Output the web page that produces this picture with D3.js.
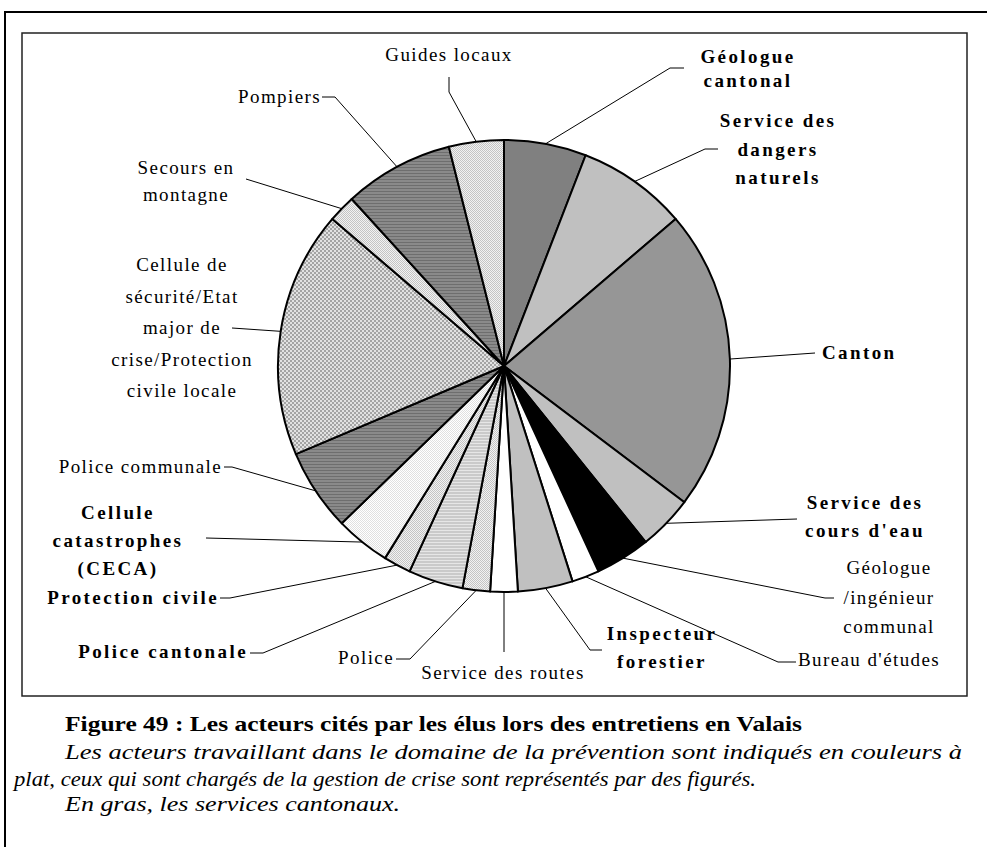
<!DOCTYPE html>
<html>
<head>
<meta charset="utf-8">
<script src="https://cdn.jsdelivr.net/npm/d3@7/dist/d3.min.js"></script>
<style>
  body { margin: 0; background: #fff; }
</style>
</head>
<body>
<svg width="987" height="847"></svg>
<script>
// data: number of citations per actor, clockwise from 12 o'clock
var actors = ['Géologue cantonal', 'Service des dangers naturels', 'Canton', "Service des cours d'eau",
  'Géologue /ingénieur communal', "Bureau d'études", 'Inspecteur forestier', 'Service des routes',
  'Police', 'Police cantonale', 'Protection civile', 'Cellule catastrophes (CECA)', 'Police communale',
  'Cellule de sécurité/Etat major de crise/Protection civile locale', 'Secours en montagne',
  'Pompiers', 'Guides locaux'];
var citations = [3, 4, 11, 2, 2, 1, 2, 1, 1, 2, 1, 2, 3, 9, 1, 4, 2];
var cantonal = [true, true, true, true, false, false, true, false, false, true, true, true, false, false, false, false, false];
var fills = ['#808080', '#c0c0c0', '#969696', '#c0c0c0', '#000000', '#ffffff', '#c0c0c0', '#ffffff',
  'url(#chkLight)', 'url(#strLight)', 'url(#chkLight)', 'url(#chkPale)', 'url(#strDark)',
  'url(#chkMed)', 'url(#chkLight)', 'url(#strDark)', 'url(#chkLight)'];

// label layout: text lines, anchor x, first baseline, anchor, leader elbow + end
var labels = [
  {lines: ['Géologue', 'cantonal'], x: 748, y: 63, dy: 24, a: 'middle', elbow: [670, 68], end: [684, 68]},
  {lines: ['Service des', 'dangers', 'naturels'], x: 778, y: 127, dy: 28.5, a: 'middle', elbow: [705, 149], end: [718, 149]},
  {lines: ['Canton'], x: 822, y: 359, a: 'start', elbow: null, end: [815, 353]},
  {lines: ['Service des', "cours d'eau"], x: 865, y: 509, dy: 28, a: 'middle', elbow: null, end: [797, 519]},
  {lines: ['Géologue', '/ingénieur', 'communal'], x: 889, y: 574, dy: 29.5, a: 'middle', elbow: [825, 598], end: [834, 598]},
  {lines: ["Bureau d'études"], x: 798, y: 666, a: 'start', elbow: [778, 662], end: [796, 662]},
  {lines: ['Inspecteur', 'forestier'], x: 662, y: 640, dy: 28, a: 'middle', elbow: [590, 650], end: [602, 650]},
  {lines: ['Service des routes'], x: 503, y: 679, a: 'middle', elbow: null, end: [504, 652]},
  {lines: ['Police'], x: 394, y: 664, a: 'end', elbow: [410, 659], end: [396, 659]},
  {lines: ['Police cantonale'], x: 248, y: 658, a: 'end', elbow: [263, 653], end: [250, 653]},
  {lines: ['Protection civile'], x: 219, y: 604, a: 'end', elbow: [230, 598], end: [220, 598]},
  {lines: ['Cellule', 'catastrophes', '(CECA)'], x: 118, y: 519, dy: 28, a: 'middle', elbow: null, end: [206, 538]},
  {lines: ['Police communale'], x: 222, y: 473, a: 'end', elbow: [232, 467], end: [224, 467]},
  {lines: ['Cellule de', 'sécurité/Etat', 'major de', 'crise/Protection', 'civile locale'], x: 182, y: 271, dy: 31.5, a: 'middle', elbow: null, end: [232, 328]},
  {lines: ['Secours en', 'montagne'], x: 186, y: 174, dy: 27, a: 'middle', elbow: null, end: [246, 179]},
  {lines: ['Pompiers'], x: 321, y: 103, a: 'end', elbow: [335, 97], end: [322, 97]},
  {lines: ['Guides locaux'], x: 449, y: 61, a: 'middle', elbow: [449, 92], end: [449, 77]}
];

var caption = [
  {t: 'Figure 49 : Les acteurs cités par les élus lors des entretiens en Valais', x: 65, y: 731, w: 737, style: 'normal', weight: 'bold'},
  {t: 'Les acteurs travaillant dans le domaine de la prévention sont indiqués en couleurs à', x: 65, y: 759, w: 897, style: 'italic', weight: 'normal'},
  {t: 'plat, ceux qui sont chargés de la gestion de crise sont représentés par des figurés.', x: 14, y: 786, w: 742, style: 'italic', weight: 'normal'},
  {t: 'En gras, les services cantonaux.', x: 65, y: 811, w: 335, style: 'italic', weight: 'normal'}
];

var serif = '"Liberation Serif", "Times New Roman", Times, serif';
var svg = d3.select('svg');
var cx = 504, cy = 366, radius = 226;

// patterns
var defs = svg.append('defs');
function checker(id, c1, c2, s) {
  var p = defs.append('pattern').attr('id', id).attr('patternUnits', 'userSpaceOnUse')
    .attr('width', 2 * s).attr('height', 2 * s);
  p.append('rect').attr('width', 2 * s).attr('height', 2 * s).attr('fill', c1);
  p.append('rect').attr('width', s).attr('height', s).attr('fill', c2);
  p.append('rect').attr('x', s).attr('y', s).attr('width', s).attr('height', s).attr('fill', c2);
}
function stripes(id, c1, c2) {
  var p = defs.append('pattern').attr('id', id).attr('patternUnits', 'userSpaceOnUse')
    .attr('width', 4).attr('height', 3);
  p.append('rect').attr('width', 4).attr('height', 3).attr('fill', c1);
  p.append('rect').attr('y', 2).attr('width', 4).attr('height', 1).attr('fill', c2);
}
checker('chkMed', '#e2e2e2', '#a4a4a4', 2);
checker('chkLight', '#f2f2f2', '#c4c4c4', 1);
checker('chkPale', '#ffffff', '#e0e0e0', 1);
stripes('strDark', '#8a8a8a', '#6e6e6e');
stripes('strLight', '#cacaca', '#e6e6e6');

// frames
svg.append('rect').attr('x', 5).attr('y', 12).attr('width', 1000).attr('height', 860)
  .attr('fill', 'none').attr('stroke', '#000').attr('stroke-width', 2);
svg.append('rect').attr('x', 22).attr('y', 33).attr('width', 945).attr('height', 663)
  .attr('fill', 'none').attr('stroke', '#222').attr('stroke-width', 1.5);

var pie = d3.pie().sort(null).value(function(d) { return d; });
var arcs = pie(citations);
var arc = d3.arc().innerRadius(0).outerRadius(radius);
var edge = d3.arc().innerRadius(radius).outerRadius(radius);

var g = svg.append('g').attr('transform', 'translate(' + [cx, cy] + ')');

// leader lines
var leaders = svg.append('g');
arcs.forEach(function(d, i) {
  var c = edge.centroid(d);
  var L = labels[i];
  var pts = [[cx + c[0], cy + c[1]]];
  if (L.elbow) pts.push(L.elbow);
  pts.push(L.end);
  leaders.append('path').attr('d', d3.line()(pts))
    .attr('fill', 'none').attr('stroke', '#000').attr('stroke-width', 1);
});

g.selectAll('path.slice').data(arcs).enter().append('path')
  .attr('class', 'slice')
  .attr('d', arc)
  .attr('fill', function(d, i) { return fills[i]; })
  .attr('stroke', '#000').attr('stroke-width', 2).attr('stroke-linejoin', 'round');

// labels
labels.forEach(function(L, i) {
  var t = svg.append('text')
    .attr('font-family', serif)
    .attr('text-anchor', L.a)
    .attr('font-size', cantonal[i] ? 19 : 19)
    .attr('font-weight', cantonal[i] ? 'bold' : 'normal')
    .attr('letter-spacing', cantonal[i] ? 2.4 : 1.4);
  L.lines.forEach(function(s, j) {
    t.append('tspan').attr('x', L.x).attr('y', L.y + j * (L.dy || 0)).text(s);
  });
});

// caption
caption.forEach(function(c) {
  svg.append('text')
    .attr('font-family', serif)
    .attr('x', c.x).attr('y', c.y)
    .attr('font-size', 21)
    .attr('font-style', c.style)
    .attr('font-weight', c.weight)
    .attr('textLength', c.w).attr('lengthAdjust', 'spacingAndGlyphs')
    .text(c.t);
});
</script>
</body>
</html>
